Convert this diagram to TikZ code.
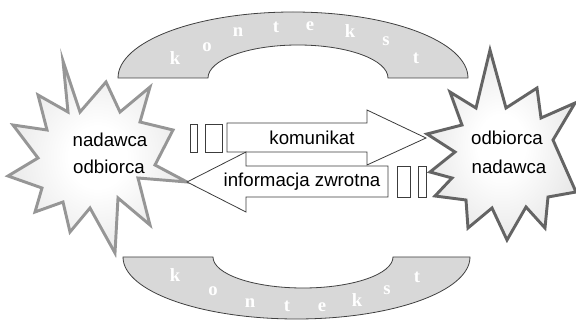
\documentclass[tikz,border=0pt]{standalone}
\usepackage{fontspec}
\setmainfont{Liberation Sans}
\newfontfamily\ctxfont{Liberation Serif}
\definecolor{archgray}{RGB}{216,216,216}
\definecolor{archline}{RGB}{64,64,64}
\definecolor{flowline}{RGB}{60,60,60}
\definecolor{burstA}{RGB}{150,150,150}
\definecolor{burstB}{RGB}{100,100,100}
\definecolor{burstfill}{RGB}{212,212,212}
% soft white-to-gray fill for the bursts
\pgfdeclareradialshading{burstshade}{\pgfpoint{0bp}{0bp}}{%
  color(0bp)=(white); color(8bp)=(white); color(42bp)=(burstfill); color(50bp)=(burstfill)}
\tikzset{
  archshape/.style={fill=archgray, draw=archline, line width=0.6pt},
  ctx/.style={text=white, font=\ctxfont\bfseries\fontsize{14}{14}\selectfont, inner sep=0pt},
  burst/.style={line width=2.2pt, shading=burstshade},
  flow/.style={fill=white, draw=flowline, line width=0.6pt},
  lbl/.style={font=\fontsize{14}{16}\selectfont, inner sep=0pt},
  slot/.style={fill=white, draw=flowline, line width=0.6pt}
}
\begin{document}
\begin{tikzpicture}[x=0.75pt,y=-0.75pt]
\useasboundingbox (0,0) rectangle (576,320);

% upper context arch
\path[archshape] (118,78) arc[start angle=180, end angle=360, x radius=175, y radius=66]
  -- (388,78) arc[start angle=0, end angle=-180, x radius=90, y radius=33] -- cycle;
% lower context arch
\path[archshape] (123,257) arc[start angle=180, end angle=0, x radius=173.5, y radius=62]
  -- (393,257) arc[start angle=0, end angle=180, x radius=90, y radius=31] -- cycle;

% letters of "kontekst" along the arches
\foreach \ch/\px/\py [count=\i] in {k/175/58, o/207/47, n/238/32, t/276/27, e/310/26, k/350/31, s/386/41, t/416/58}
  \node[ctx] (ctxtop\i) at (\px,\py) {\ch};
\foreach \ch/\px/\py [count=\i] in {k/175/275, o/213/291, n/250/303, t/287/306, e/322/307, k/357/300, s/387/290, t/417/277}
  \node[ctx] (ctxbot\i) at (\px,\py) {\ch};

% left burst (sender / receiver)
\shade[burst, draw=burstA] (63,61) -- (80,112) -- (106,82) -- (120,112) -- (150,87) -- (140,122)
  -- (173,130) -- (155,165) -- (187,182) -- (138,178) -- (150,225) -- (118,198)
  -- (115,253) -- (90,208) -- (70,232) -- (63,202) -- (35,212) -- (42,188)
  -- (8,176) -- (38,158) -- (13,125) -- (47,130) -- (38,95) -- (68,112) -- cycle;
% right burst (receiver / sender)
\shade[burst, draw=burstB] (490,50) -- (506,108) -- (537,88) -- (541,118) -- (575,103) -- (553,140)
  -- (576,192) -- (548,197) -- (545,228) -- (526,207) -- (507,240) -- (492,208)
  -- (468,228) -- (466,200) -- (435,196) -- (452,178) -- (430,172) -- (455,152)
  -- (427,134) -- (462,125) -- (450,92) -- (476,108) -- cycle;

\node[lbl] (snd1) at (110,140) {nadawca};
\node[lbl] (snd2) at (109,167) {odbiorca};
\node[lbl] (rcv1) at (507,138) {odbiorca};
\node[lbl] (rcv2) at (509,167) {nadawca};

% message arrow and feedback arrow
\path[flow] (227,123) -- (367,123) -- (367,110) -- (426,138) -- (367,165) -- (367,152) -- (227,152) -- cycle;
\path[flow] (388,166) -- (246,166) -- (246,152) -- (187,182) -- (246,212) -- (246,197) -- (388,197) -- cycle;
\node[lbl] (msg) at (312,138) {komunikat};
\node[lbl] (fb) at (302,182) {informacja zwrotna};

% small packets
\path[slot] (190,124) rectangle (197,152);
\path[slot] (205,124) rectangle (222,152);
\path[slot] (397,166) rectangle (410,197);
\path[slot] (418,166) rectangle (426,197);
\end{tikzpicture}
\end{document}
